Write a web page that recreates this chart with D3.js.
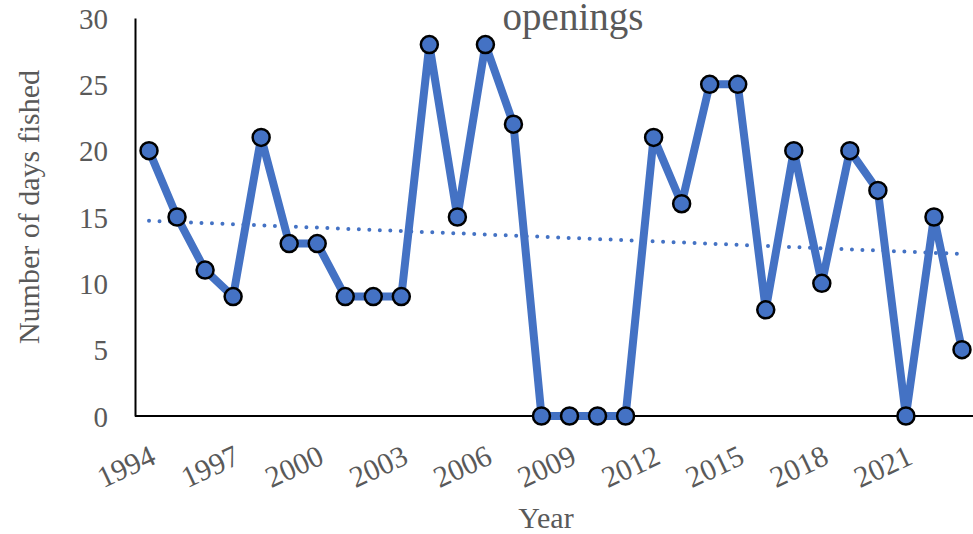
<!DOCTYPE html>
<html>
<head>
<meta charset="utf-8">
<script src="https://cdn.jsdelivr.net/npm/d3@7"></script>
<style>
  html, body { margin: 0; padding: 0; background: #fff; }
  svg { display: block; }
  text { font-family: "Liberation Serif", "Times New Roman", serif; fill: #595959; }
</style>
</head>
<body>
<svg id="chart" width="973" height="534"></svg>
<script>
const years = [1994,1995,1996,1997,1998,1999,2000,2001,2002,2003,2004,2005,2006,2007,2008,2009,2010,2011,2012,2013,2014,2015,2016,2017,2018,2019,2020,2021,2022,2023];
const daysFished = [20,15,11,9,21,13,13,9,9,9,28,15,28,22,0,0,0,0,21,16,25,25,8,20,10,20,17,0,15,5];
const yTicks = [0,5,10,15,20,25,30];
const xTickLabels = [1994,1997,2000,2003,2006,2009,2012,2015,2018,2021];
const titleText = "openings";
const xTitle = "Year";
const yTitle = "Number of days fished";

const svg = d3.select("#chart");
const plotLeft = 135, plotRight = 976, plotTop = 18, plotBottom = 416;
const blue = "#4472C4";

const x = d3.scalePoint().domain(years).range([plotLeft, plotRight]).padding(0.5);
const y = d3.scaleLinear().domain([0, 30]).range([plotBottom, plotTop]);

// least-squares trendline
const n = years.length;
const xi = years.map((d, i) => i);
const mx = d3.mean(xi), my = d3.mean(daysFished);
const slope = d3.sum(xi.map((v, i) => (v - mx) * (daysFished[i] - my))) / d3.sum(xi.map(v => (v - mx) ** 2));
const intercept = my - slope * mx;

// axes
const yAxis = d3.axisLeft(y).tickValues(yTicks).tickSize(0).tickPadding(27);
const gy = svg.append("g").attr("transform", `translate(${plotLeft},0)`).call(yAxis);
gy.attr("font-family", "Liberation Serif");
gy.select(".domain").attr("stroke", "#000").attr("stroke-width", 2);
gy.selectAll("text").style("font-size", "29px").attr("fill", "#595959").attr("dy", "0.35em");

const xAxis = d3.axisBottom(x).tickValues(xTickLabels).tickSize(0).tickFormat(d3.format("d"));
const gx = svg.append("g").attr("transform", `translate(0,${plotBottom})`).call(xAxis);
gx.attr("font-family", "Liberation Serif");
gx.select(".domain").attr("stroke", "#000").attr("stroke-width", 2).attr("d", `M${plotLeft},0H973`);
gx.selectAll(".tick text")
  .style("font-size", "30px")
  .attr("fill", "#595959")
  .attr("text-anchor", "end")
  .attr("x", 0).attr("y", 0).attr("dy", 0)
  .attr("transform", "translate(8,47) rotate(-25)");

// trendline
svg.append("line")
  .attr("x1", x(years[0])).attr("y1", y(intercept))
  .attr("x2", x(years[n - 1])).attr("y2", y(intercept + slope * (n - 1)))
  .attr("stroke", blue).attr("stroke-width", 4)
  .attr("stroke-linecap", "round").attr("stroke-dasharray", "0,10.5");

// series line
svg.append("path")
  .datum(daysFished)
  .attr("fill", "none").attr("stroke", blue).attr("stroke-width", 8)
  .attr("stroke-linejoin", "round")
  .attr("d", d3.line().x((d, i) => x(years[i])).y(d => y(d)));

svg.selectAll("circle.pt")
  .data(daysFished)
  .join("circle")
  .attr("class", "pt")
  .attr("cx", (d, i) => x(years[i])).attr("cy", d => y(d))
  .attr("r", 8.5)
  .attr("fill", blue).attr("stroke", "#000").attr("stroke-width", 2.5);

// titles
svg.append("text").attr("x", 573).attr("y", 30).attr("text-anchor", "middle")
  .style("font-size", "39px").text(titleText);
svg.append("text").attr("x", 546).attr("y", 528).attr("text-anchor", "middle")
  .style("font-size", "30px").text(xTitle);
svg.append("text").attr("transform", "translate(39,207) rotate(-90)").attr("text-anchor", "middle")
  .style("font-size", "30px").text(yTitle);
</script>
</body>
</html>
